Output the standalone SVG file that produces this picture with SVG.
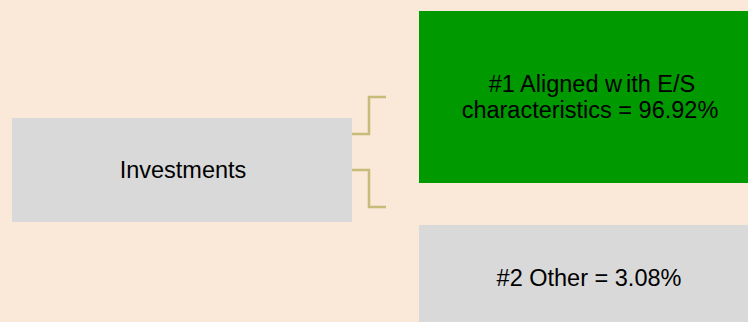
<svg xmlns="http://www.w3.org/2000/svg" width="748" height="322" viewBox="0 0 748 322">
<style>
text{font-family:"Liberation Sans",Arial,sans-serif;font-size:23.5px;fill:#000;text-anchor:middle}
.conn{fill:none;stroke:#c8bd78;stroke-width:2.5}
</style>
<rect width="748" height="322" fill="#fae9d9"/>
<g id="connectors">
<path class="conn" d="M352 134 H369 V97 H386"/>
<path class="conn" d="M352 170 H369 V207 H386"/>
</g>
<g id="investments">
<rect x="12" y="118" width="340" height="104" fill="#d9d9d9"/>
<text x="183" y="178">Investments</text>
</g>
<g id="aligned">
<rect x="419" y="11" width="329" height="172" fill="#009900"/>
<text x="592" y="92">#1 Aligned w<tspan dx="4">ith E/S</tspan></text>
<text x="590" y="118">characteristics = 96.92%</text>
</g>
<g id="other">
<rect x="419" y="225" width="329" height="97" fill="#d9d9d9"/>
<text x="589" y="286">#2 Other = 3.08%</text>
</g>
</svg>
